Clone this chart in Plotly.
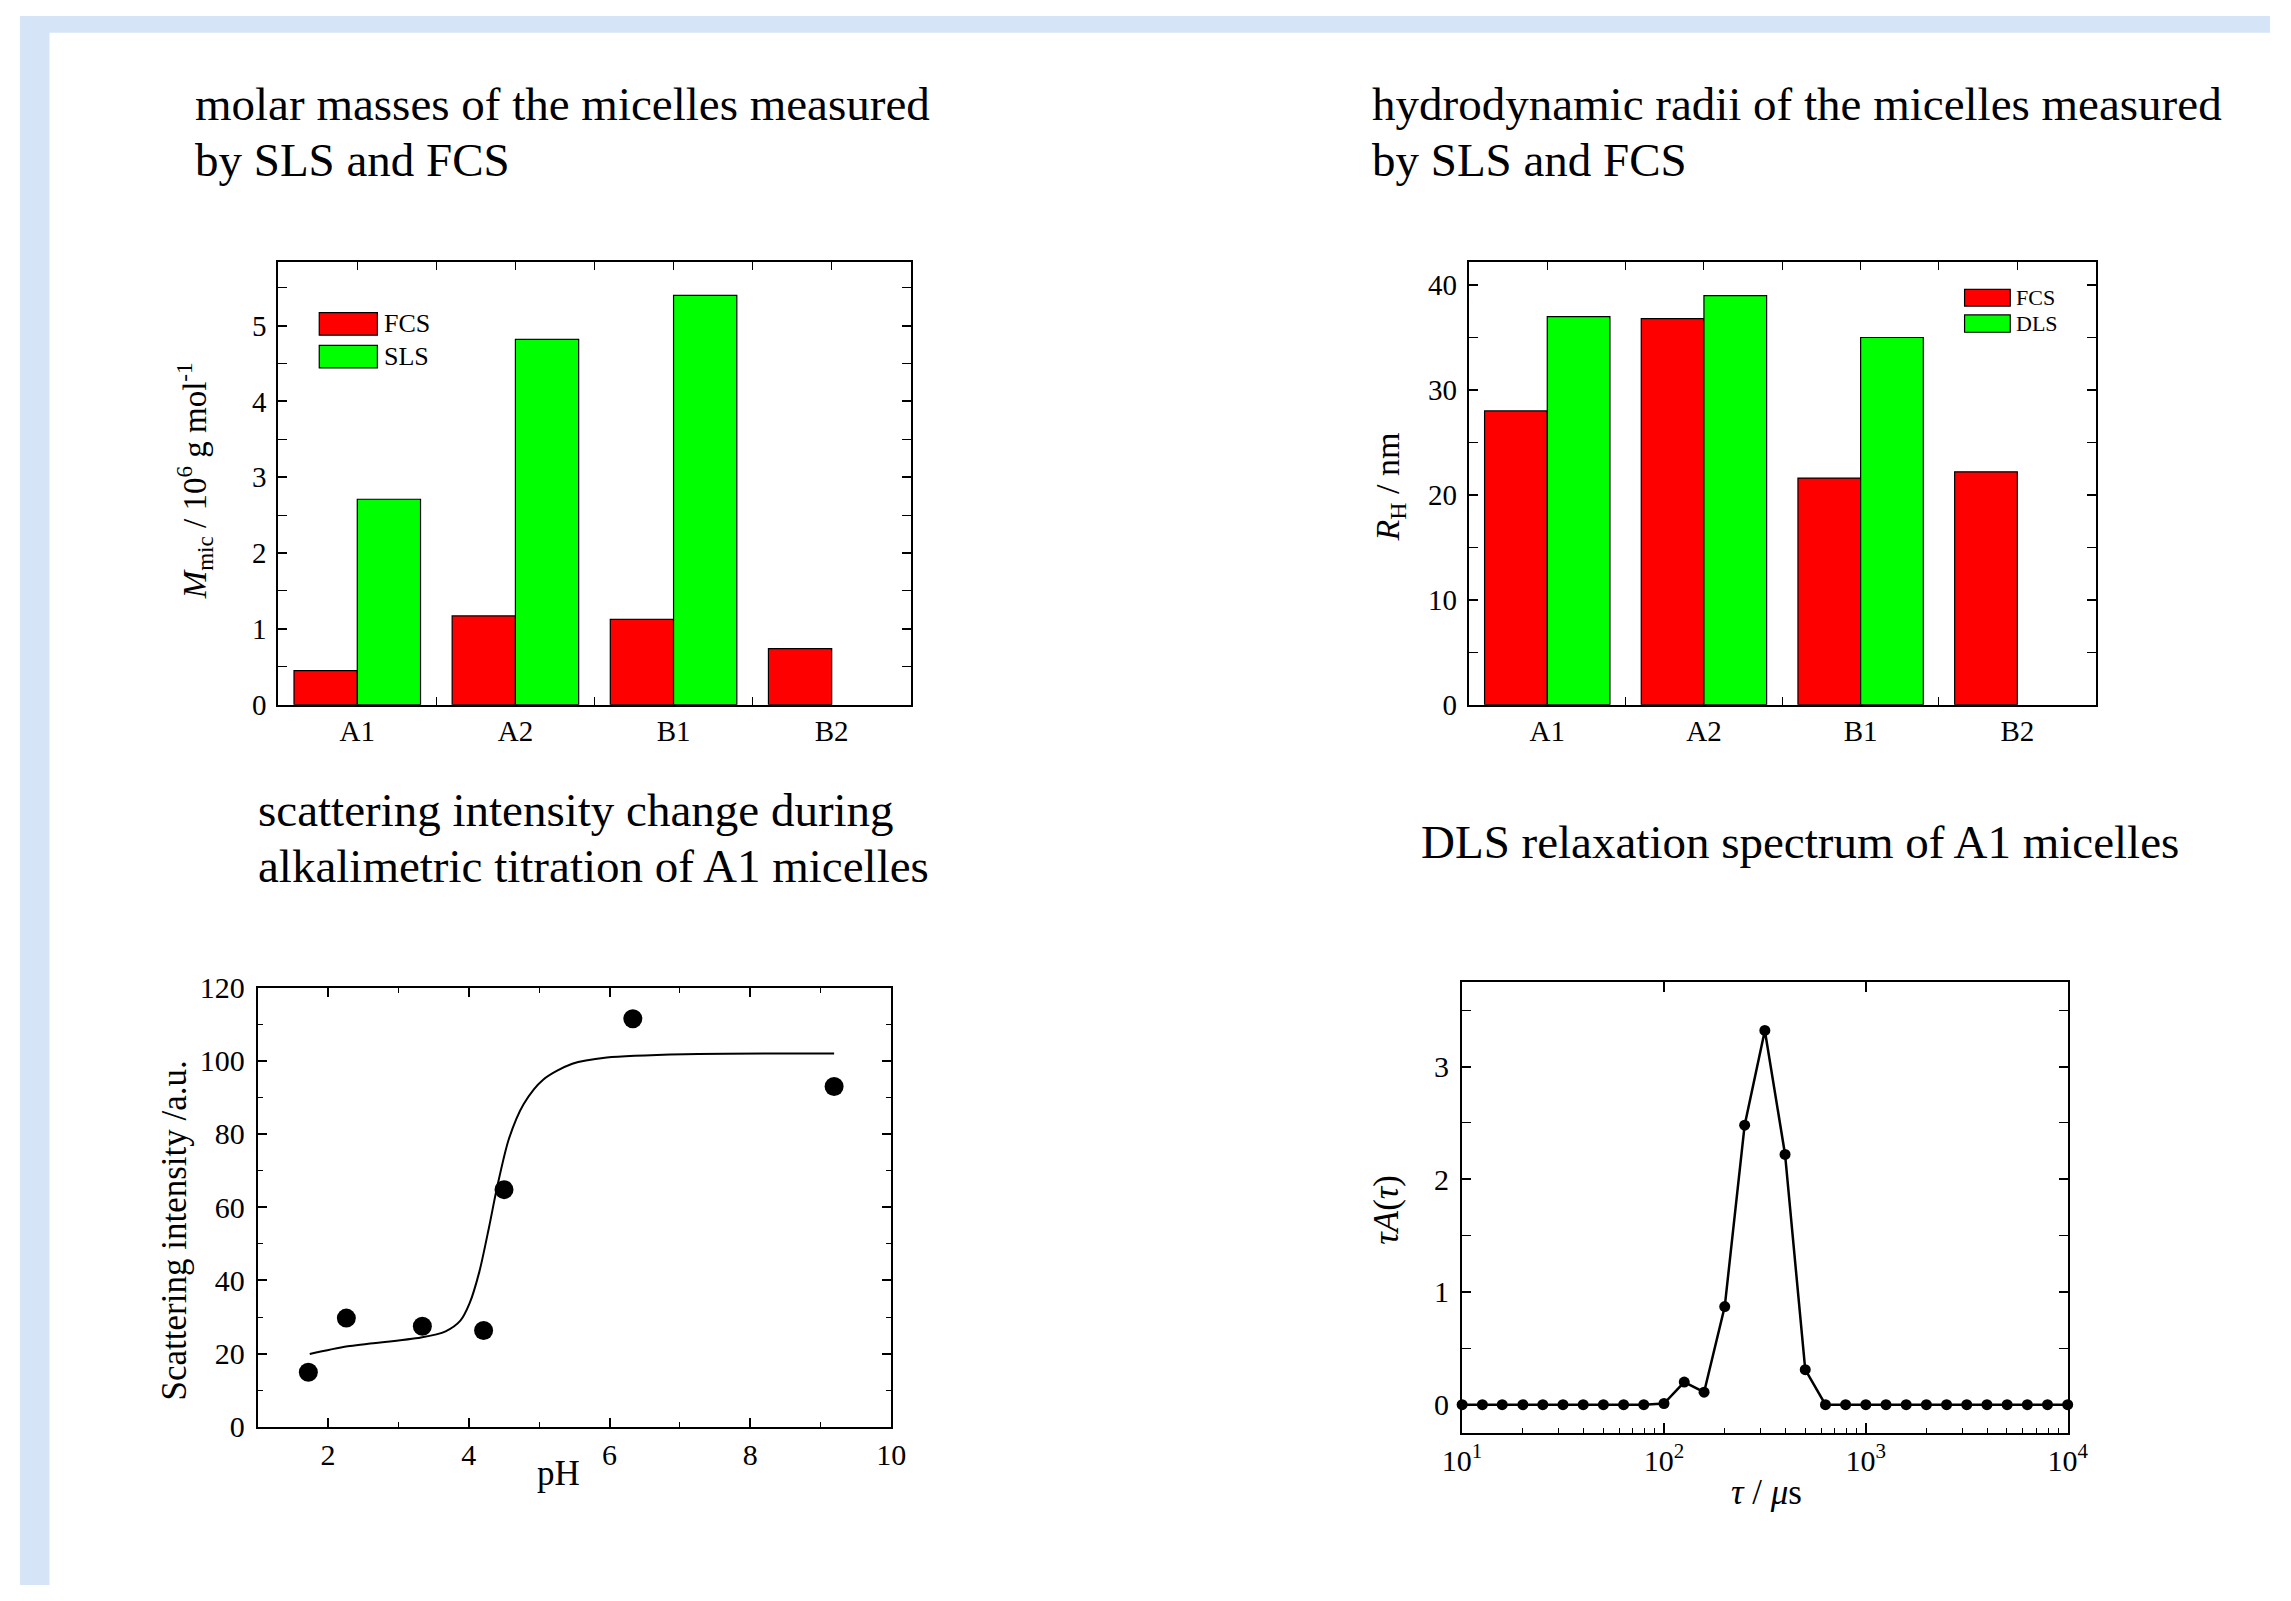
import plotly.graph_objects as go

W, H = 2291, 1601

# ---------------- data ----------------
categories = ["A1", "A2", "B1", "B2"]
cat_pos = [0, 1, 2, 3]
mass_fcs = [0.45, 1.17, 1.125, 0.74]
mass_sls = [2.71, 4.82, 5.40, None]
rh_fcs = [28.0, 36.8, 21.6, 22.2]
rh_dls = [37.0, 39.0, 35.0, None]

ph_points = [1.72, 2.26, 3.34, 4.21, 4.50, 6.33, 9.19]
intensity_points = [14.9, 29.7, 27.5, 26.3, 64.8, 111.5, 93.0]
ph_fit = [1.74, 2.28, 3.32, 3.67, 3.88, 4.01, 4.15, 4.29, 4.40, 4.57, 4.78, 5.06, 5.47, 5.96, 7.07, 9.19]
intensity_fit = [19.9, 22.0, 24.4, 26.1, 29.0, 33.7, 42.4, 54.8, 65.3, 78.7, 88.2, 94.9, 99.2, 100.9, 101.8, 102.0]

tau = [10, 12.6, 15.8, 20.0, 25.1, 31.6, 39.8, 50.1, 63.1, 79.4,
       100, 126, 158, 200, 251, 316, 398, 501, 631, 794,
       1000, 1259, 1585, 1995, 2512, 3162, 3981, 5012, 6310, 7943, 10000]
tauA = [0, 0, 0, 0, 0, 0, 0, 0, 0, 0,
        0.01, 0.20, 0.11, 0.87, 2.48, 3.32, 2.22, 0.31, 0, 0,
        0, 0, 0, 0, 0, 0, 0, 0, 0, 0, 0]

log_major = [10, 100, 1000, 10000]
log_major_text = ["10<sup>1</sup>", "10<sup>2</sup>", "10<sup>3</sup>", "10<sup>4</sup>"]
log_minor = [20, 30, 40, 50, 60, 70, 80, 90, 200, 300, 400, 500, 600, 700, 800, 900,
             2000, 3000, 4000, 5000, 6000, 7000, 8000, 9000]

FONT = "Liberation Serif, Times New Roman, serif"
RED = "#ff0000"
GREEN = "#00ff00"


def xd(a, b):
    return [a / W, b / W]


def yd(top, bottom):
    return [1 - bottom / H, 1 - top / H]


def px(x):
    return x / W


def py(y):
    return 1 - y / H


fig = go.Figure()

# panel 1 bars
fig.add_trace(go.Bar(x=cat_pos, y=mass_fcs, name="FCS", marker=dict(color=RED, line=dict(color="black", width=1.2)),
                     xaxis="x", yaxis="y", showlegend=False, offsetgroup="a"))
fig.add_trace(go.Bar(x=cat_pos, y=mass_sls, name="SLS", marker=dict(color=GREEN, line=dict(color="black", width=1.2)),
                     xaxis="x", yaxis="y", showlegend=False, offsetgroup="b"))
# panel 2 bars
fig.add_trace(go.Bar(x=cat_pos, y=rh_fcs, name="FCS", marker=dict(color=RED, line=dict(color="black", width=1.2)),
                     xaxis="x2", yaxis="y2", showlegend=False, offsetgroup="a"))
fig.add_trace(go.Bar(x=cat_pos, y=rh_dls, name="DLS", marker=dict(color=GREEN, line=dict(color="black", width=1.2)),
                     xaxis="x2", yaxis="y2", showlegend=False, offsetgroup="b"))
# panel 3
fig.add_trace(go.Scatter(x=ph_fit, y=intensity_fit, mode="lines", line=dict(color="black", width=2, shape="spline", smoothing=0.8),
                         xaxis="x3", yaxis="y3", showlegend=False))
fig.add_trace(go.Scatter(x=ph_points, y=intensity_points, mode="markers", marker=dict(color="black", size=19),
                         xaxis="x3", yaxis="y3", showlegend=False, cliponaxis=False))
# panel 4
fig.add_trace(go.Scatter(x=tau, y=tauA, mode="lines+markers", line=dict(color="black", width=2.5),
                         marker=dict(color="black", size=11), xaxis="x4", yaxis="y4", showlegend=False, cliponaxis=False))
# dummy traces for top tick axes
fig.add_trace(go.Scatter(x=[None], y=[None], xaxis="x5", yaxis="y", showlegend=False, hoverinfo="skip"))
fig.add_trace(go.Scatter(x=[None], y=[None], xaxis="x6", yaxis="y2", showlegend=False, hoverinfo="skip"))
fig.add_trace(go.Scatter(x=[None], y=[None], xaxis="x7", yaxis="y4", showlegend=False, hoverinfo="skip"))

tf_bar = dict(family=FONT, size=29, color="black")
tf_plot = dict(family=FONT, size=30, color="black")
common = dict(showgrid=False, zeroline=False, showline=True, linecolor="black", linewidth=2,
              tickcolor="black", tickwidth=1.5)

P1 = dict(l=262.9, r=907, t=251, b=702.7)
P2 = dict(l=1475.3, r=2113.5, t=251, b=702.7)
P3 = dict(l=242, r=887, t=991.4, b=1439.6)
P4 = dict(l=1468.4, r=2085, t=985.7, b=1445.7)

bar_x = dict(range=[-0.5, 3.5], tickmode="array", tickvals=cat_pos, ticktext=categories, ticks="",
             mirror=True, tickfont=tf_bar,
             minor=dict(tickmode="array", tickvals=[0.5, 1.5, 2.5], ticks="inside", ticklen=8,
                        tickcolor="black", tickwidth=1.2), **common)
top_x = dict(range=[-0.5, 3.5], tickmode="array", tickvals=[0, 0.5, 1, 1.5, 2, 2.5, 3], ticks="inside",
             ticklen=8, tickcolor="black", tickwidth=1.2, showticklabels=False, showgrid=False, zeroline=False,
             showline=False, side="top")


def minor(vals):
    return dict(tickmode="array", tickvals=vals, ticks="inside", ticklen=5, tickcolor="black", tickwidth=1.2)


fig.update_layout(
    width=W, height=H, margin=dict(l=0, r=0, t=0, b=0),
    paper_bgcolor="white", plot_bgcolor="white",
    bargap=0.2, bargroupgap=0, barmode="group",
    font=dict(family=FONT, color="black"),
    xaxis=dict(domain=xd(P1["l"], P1["r"]), anchor="y", **bar_x),
    yaxis=dict(domain=yd(P1["t"], P1["b"]), anchor="x", range=[0, 5.84], tickmode="array",
               tickvals=[0, 1, 2, 3, 4, 5], ticks="inside", ticklen=9, mirror="allticks", tickfont=tf_bar,
               ticklabelstandoff=4, minor=minor([0.5, 1.5, 2.5, 3.5, 4.5, 5.5]), **common),
    xaxis5=dict(overlaying="x", anchor="y", **top_x),
    xaxis2=dict(domain=xd(P2["l"], P2["r"]), anchor="y2", **bar_x),
    yaxis2=dict(domain=yd(P2["t"], P2["b"]), anchor="x2", range=[0, 42.2], tickmode="array",
                tickvals=[0, 10, 20, 30, 40], ticks="inside", ticklen=9, mirror="allticks", tickfont=tf_bar,
                ticklabelstandoff=4, minor=minor([5, 15, 25, 35]), **common),
    xaxis6=dict(overlaying="x2", anchor="y2", **top_x),
    xaxis3=dict(domain=xd(P3["l"], P3["r"]), anchor="y3", range=[1, 10], tickmode="array",
                tickvals=[2, 4, 6, 8, 10], ticks="inside", ticklen=9, mirror="allticks", tickfont=tf_plot,
                minor=minor([1, 3, 5, 7, 9]), **common),
    yaxis3=dict(domain=yd(P3["t"], P3["b"]), anchor="x3", range=[0, 120], tickmode="array",
                tickvals=[0, 20, 40, 60, 80, 100, 120], ticks="inside", ticklen=9, mirror="allticks",
                tickfont=tf_plot, ticklabelstandoff=5, minor=minor([10, 30, 50, 70, 90, 110]), **common),
    xaxis4=dict(domain=xd(P4["l"], P4["r"]), anchor="y4", type="log", range=[1, 4], tickmode="array",
                tickvals=log_major, ticktext=log_major_text, ticks="inside", ticklen=10, mirror=True,
                tickfont=tf_plot, minor=minor(log_minor), **common),
    xaxis7=dict(overlaying="x4", anchor="y4", side="top", type="log", range=[1, 4], tickmode="array",
                tickvals=log_major, ticks="inside", ticklen=10, tickcolor="black", tickwidth=1.5,
                showticklabels=False, showgrid=False, zeroline=False, showline=False),
    yaxis4=dict(domain=yd(P4["t"], P4["b"]), anchor="x4", range=[-0.25, 3.75], tickmode="array",
                tickvals=[0, 1, 2, 3], ticks="inside", ticklen=9, mirror="allticks", tickfont=tf_plot,
                ticklabelstandoff=5, minor=minor([0.5, 1.5, 2.5, 3.5]), **common),
)

shapes = [
    dict(type="rect", xref="paper", yref="paper", x0=0, x1=px(30), y0=0, y1=1,
         fillcolor="#d5e4f6", line=dict(width=0), layer="below"),
    dict(type="rect", xref="paper", yref="paper", x0=0, x1=1, y0=py(17), y1=1,
         fillcolor="#d5e4f6", line=dict(width=0), layer="below"),
]


def legend_box(x0, x1, y0, y1, color):
    return dict(type="rect", xref="paper", yref="paper", x0=px(x0), x1=px(x1), y0=py(y1), y1=py(y0),
                fillcolor=color, line=dict(color="black", width=1.2), layer="above")


shapes += [legend_box(304.7, 363.9, 302.7, 325.7, RED), legend_box(304.7, 363.9, 336, 359, GREEN),
           legend_box(1980, 2026.5, 279, 296, RED), legend_box(1980, 2026.5, 305, 322.7, GREEN)]

annotations = []


def txt(x, y, s, size, xanchor="left", angle=0):
    annotations.append(dict(xref="paper", yref="paper", x=px(x), y=py(y), text=s, showarrow=False,
                            xanchor=xanchor, yanchor="middle", textangle=angle,
                            font=dict(family=FONT, size=size, color="black")))


TS = 47
txt(176, 90, "molar masses of the micelles measured", TS)
txt(176, 147, "by SLS and FCS", TS)
txt(1375, 90, "hydrodynamic radii of the micelles measured", TS)
txt(1375, 147, "by SLS and FCS", TS)
txt(240, 810, "scattering intensity change during", TS)
txt(240, 867, "alkalimetric titration of A1 micelles", TS)
txt(1425, 842.5, "DLS relaxation spectrum of A1 micelles", TS)

txt(369, 314, "FCS", 26)
txt(369, 347.5, "SLS", 26)
txt(2030, 287.5, "FCS", 22)
txt(2030, 314, "DLS", 22)

AS = 35
txt(178, 474, "<i>M</i><sub>mic</sub> / 10<sup>6</sup> g mol<sup>-1</sup>", 33, xanchor="center", angle=-90)
txt(1395, 481, "<i>R</i><sub>H</sub> / nm", 34, xanchor="center", angle=-90)
txt(157, 1239, "Scattering intensity /a.u.", AS, xanchor="center", angle=-90)
txt(548, 1487, "pH", AS, xanchor="center")
txt(1392, 1218, "<i>τA</i>(<i>τ</i>)", AS, xanchor="center", angle=-90)
txt(1778, 1507, "<i>τ</i> / <i>μ</i>s", AS, xanchor="center")

fig.update_layout(shapes=shapes, annotations=annotations)

post = ("document.documentElement.style.margin='0';document.documentElement.style.padding='0';"
        "document.body.style.margin='0';document.body.style.padding='0';"
        "document.documentElement.style.overflow='hidden';document.body.style.overflow='hidden';")

fig.write_html("out.html", config={"displayModeBar": False}, post_script=post)
